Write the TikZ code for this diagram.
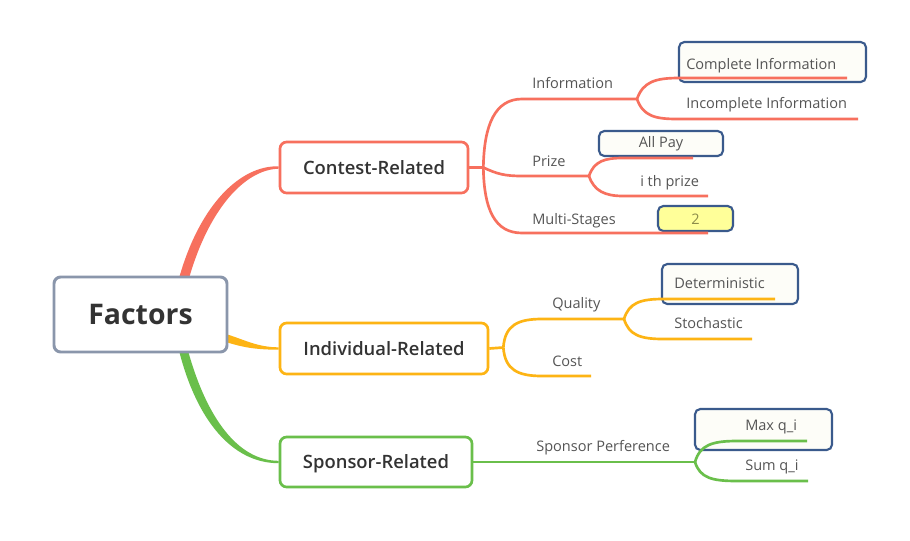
\documentclass[tikz,border=0pt]{standalone}
\usepackage{fontspec}
\setmainfont{Open Sans}
\newfontfamily\semib{Open Sans Semibold}
\usetikzlibrary{calc}
\definecolor{cred}{HTML}{F7705E}
\definecolor{corange}{HTML}{FDB414}
\definecolor{cgreen}{HTML}{6ABF4B}
\definecolor{bbox}{HTML}{3A5A8C}
\definecolor{fbord}{HTML}{8A96AB}
\definecolor{boxfill}{HTML}{FDFDF8}
\definecolor{yfill}{HTML}{FFFF99}
\definecolor{ytext}{HTML}{8C8C4A}
\definecolor{txt}{HTML}{333333}
\definecolor{txtb}{HTML}{555555}
\pgfdeclarelayer{back}
\pgfdeclarelayer{mid}
\pgfsetlayers{back,mid,main}
\tikzset{
  wh/.style 2 args={minimum width=#1*0.75pt, minimum height=#2*0.75pt},
  factbox/.style={draw=fbord, line width=2.2pt, rounded corners=5pt, fill=white, inner sep=0, text=txt,
    font=\bfseries\fontsize{21.3}{24}\selectfont},
  mainbox/.style={line width=2pt, rounded corners=5pt, fill=white, inner sep=0, text=txt,
    font=\semib\fontsize{13.8}{16}\selectfont, text height=9.8pt, text depth=0pt},
  subbox/.style={draw=bbox, line width=1.6pt, rounded corners=4pt, fill=boxfill, inner sep=0},
  lab/.style={anchor=west, inner sep=0, text=txtb, font=\fontsize{10.9}{12}\selectfont,
    text height=7.8pt, text depth=0pt},
  brl/.style={line width=2pt, line cap=butt},
}
\begin{document}
\begin{tikzpicture}[x=0.75pt,y=-0.75pt]
\begin{pgfonlayer}{back}
\path[use as bounding box, fill=white] (0,0) rectangle (910,540);
\end{pgfonlayer}

% main nodes
\node[factbox, wh={173}{75}] (factors) at (140.5,314.5) {Factors};
\node[mainbox, draw=cred, wh={188}{51}] (contest) at (374,167.5) {Contest-Related};
\node[mainbox, draw=corange, wh={208}{51}] (indiv) at (384,348.5) {Individual-Related};
\node[mainbox, draw=cgreen, wh={192}{50}] (sponsor) at (376,462) {Sponsor-Related};

% sub boxes
\begin{pgfonlayer}{back}
\node[subbox, wh={187}{40}] (bcomplete) at (772.5,62) {};
\node[subbox, wh={124}{25}] (ballpay) at (661,143.5) {};
\node[subbox, fill=yfill, wh={75}{25}] (btwo) at (695.5,218.5) {};
\node[subbox, wh={136}{40}] (bdet) at (730,284) {};
\node[subbox, wh={137}{41}] (bmax) at (763.5,429.5) {};
\end{pgfonlayer}

% coordinates
\coordinate (cf) at ($(contest.east)+(14,0)$);
\coordinate (infoL) at (522,99);   \coordinate (infoF) at (637,99);
\coordinate (prizeL) at (522,176); \coordinate (prizeF) at (589,176);
\coordinate (multiL) at (522,233); \coordinate (multiR) at (708,233);
\coordinate (compL) at (679,78);   \coordinate (compR) at (847,78);
\coordinate (incL) at (677,119);   \coordinate (incR) at (858,119);
\coordinate (allL) at (623,158);   \coordinate (allR) at (693,158);
\coordinate (ithL) at (623,196);   \coordinate (ithR) at (708,196);
\coordinate (inf) at ($(indiv.east)+(14,-1)$);
\coordinate (qualL) at (542,319);  \coordinate (qualF) at (624,319);
\coordinate (costL) at (542,376);  \coordinate (costR) at (591,376);
\coordinate (detL) at (663,299);   \coordinate (detR) at (775,299);
\coordinate (stoL) at (663,339);   \coordinate (stoR) at (752,339);
\coordinate (sf) at (695,462);
\coordinate (maxL) at (737,441);   \coordinate (maxR) at (807,441);
\coordinate (sumL) at (737,481);   \coordinate (sumR) at (808,481);

\begin{pgfonlayer}{mid}
% tapered main connectors
\fill[cred] ($(factors.north)+(39,1)$) .. controls (200,205) and (240,165.3) .. ($(contest.west)+(0,-1.2)$)
  -- ($(contest.west)+(0,1.2)$) .. controls (244,169.7) and (209,210) .. ($(factors.north)+(49,1)$) -- cycle;
\fill[corange] ($(factors.east)+(-1,20)$) .. controls (245,340) and (258,347.3) .. ($(indiv.west)+(0,-1.2)$)
  -- ($(indiv.west)+(0,1.2)$) .. controls (255,349.7) and (242,347) .. ($(factors.east)+(-1,28)$) -- cycle;
\fill[cgreen] ($(factors.south)+(39,-1)$) .. controls (197,420) and (232,463.2) .. ($(sponsor.west)+(0,1.2)$)
  -- ($(sponsor.west)+(0,-1.2)$) .. controls (238,460.8) and (207,418) .. ($(factors.south)+(48,-1)$) -- cycle;

% contest branches
\draw[brl, cred] (contest.east) -- (cf);
\draw[brl, cred] (cf) .. controls (484,125) and (495,99) .. (infoL) -- (infoF);
\draw[brl, cred] (cf) .. controls (497,174) and (505,176) .. (prizeL) -- (prizeF);
\draw[brl, cred] (cf) .. controls (484,210) and (495,233) .. (multiL) -- (multiR);
\draw[brl, cred] (infoF) .. controls (643,82) and (655,78) .. (compL) -- (compR);
\draw[brl, cred] (infoF) .. controls (643,116) and (655,119) .. (incL) -- (incR);
\draw[brl, cred] (prizeF) .. controls (594,161) and (605,158) .. (allL) -- (allR);
\draw[brl, cred] (prizeF) .. controls (594,191) and (605,196) .. (ithL) -- (ithR);

% individual branches
\draw[brl, corange] (indiv.east) -- (inf);
\draw[brl, corange] (inf) .. controls (505,325) and (518,319) .. (qualL) -- (qualF);
\draw[brl, corange] (inf) .. controls (505,370) and (518,376) .. (costL) -- (costR);
\draw[brl, corange] (qualF) .. controls (629,303) and (640,299) .. (detL) -- (detR);
\draw[brl, corange] (qualF) .. controls (629,335) and (640,339) .. (stoL) -- (stoR);

% sponsor branches
\draw[brl, cgreen] (sponsor.east) -- (sf);
\draw[brl, cgreen] (sf) .. controls (700,445) and (712,441) .. (maxL) -- (maxR);
\draw[brl, cgreen] (sf) .. controls (700,478) and (712,481) .. (sumL) -- (sumR);
\end{pgfonlayer}

% labels
\node[lab] (linfo) at (532,83) {Information};
\node[lab] (lcomp) at (686,64) {Complete Information};
\node[lab] (linc) at (686,103) {Incomplete Information};
\node[lab] (lprize) at (532,161) {Prize};
\node[lab, anchor=center] (lall) at (661,142) {All Pay};
\node[lab] (lith) at (640,181) {i th prize};
\node[lab] (lmulti) at (532,219) {Multi-Stages};
\node[lab, anchor=center, text=ytext] (ltwo) at (695.5,219) {2};
\node[lab] (lqual) at (552,303) {Quality};
\node[lab] (lcost) at (552,361) {Cost};
\node[lab] (ldet) at (674,283) {Deterministic};
\node[lab] (lsto) at (674,323) {Stochastic};
\node[lab] (lspons) at (536,446) {Sponsor Perference};
\node[lab] (lmax) at (745,425) {Max q\_i};
\node[lab] (lsum) at (745,465) {Sum q\_i};
\end{tikzpicture}
\end{document}
